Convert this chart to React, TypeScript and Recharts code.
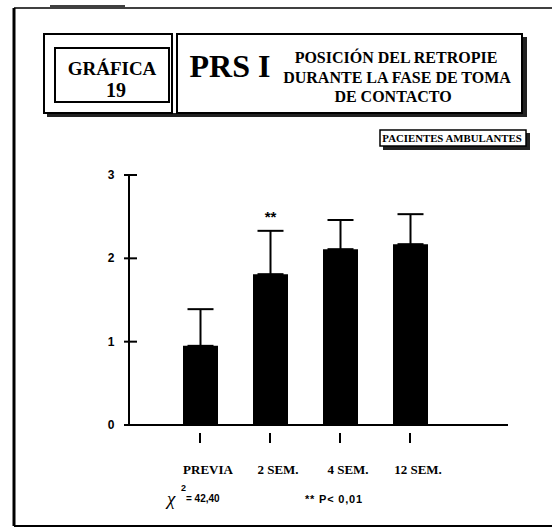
import React from 'react';
import { BarChart, Bar, XAxis, YAxis, ErrorBar, LabelList } from 'recharts';

// values
const categories = ['PREVIA', '2 SEM.', '4 SEM.', '12 SEM.'];
const means = [0.95, 1.81, 2.11, 2.17];
const sds = [0.44, 0.52, 0.35, 0.36];
const marks = ['', '**', '', ''];
const yTicks = [0, 1, 2, 3];

const data = categories.map((name, i) => ({
  name,
  mean: means[i],
  err: [0, sds[i]],
  mark: marks[i],
}));

const SERIF = 'Liberation Serif, DejaVu Serif, Times New Roman, serif';
const SANS = 'Liberation Sans, Arial, sans-serif';

const serif = { fontFamily: SERIF, fontWeight: 'bold' as const };

const XTick = ({ x, y, payload }: any) => (
  <g>
    <line x1={x} x2={x} y1={y + 8} y2={y + 18} stroke="#000" strokeWidth={2} />
    <text x={x + 8} y={y + 49} textAnchor="middle" style={serif} fontSize={13} fill="#000">
      {payload.value}
    </text>
  </g>
);

const YTick = ({ x, y, payload }: any) => (
  <g>
    <line x1={x - 5} x2={x + 8} y1={y} y2={y} stroke="#000" strokeWidth={2} />
    <text x={x - 18} y={y + 4} textAnchor="middle" style={{ fontFamily: SANS, fontWeight: 'bold' }} fontSize={12} fill="#000">
      {payload.value}
    </text>
  </g>
);

const MarkLabel = ({ x, y, width, height, value, index }: any) => {
  if (!value) return null;
  const top = y - (height * sds[index]) / means[index];
  return (
    <text x={x + width / 2} y={top - 9} textAnchor="middle" style={{ fontFamily: SANS, fontWeight: 'bold' }} fontSize={15} fill="#000">
      {value}
    </text>
  );
};

const Header = () => (
  <svg width={552} height={528} style={{ position: 'absolute', left: 0, top: 0 }}>
    {/* outer frame */}
    <line x1={14} x2={552} y1={8} y2={8} stroke="#000" strokeWidth={1.5} />
    <line x1={50} x2={125} y1={6} y2={6} stroke="#000" strokeWidth={1.5} />
    <line x1={14} x2={14} y1={8} y2={526} stroke="#000" strokeWidth={3} />
    <line x1={14} x2={552} y1={526} y2={526} stroke="#000" strokeWidth={2} />

    {/* title box shadows */}
    <rect x={47} y={113} width={480} height={4} fill="#222" />
    <rect x={522} y={37} width={5} height={80} fill="#222" />
    {/* title boxes */}
    <rect x={44} y={34} width={128} height={79} fill="#fff" stroke="#000" strokeWidth={2} />
    <rect x={177} y={34} width={345} height={79} fill="#fff" stroke="#000" strokeWidth={2} />
    <rect x={55} y={48} width={114} height={54} fill="none" stroke="#000" strokeWidth={2} />

    <text x={112} y={75} textAnchor="middle" style={serif} fontSize={19}>GRÁFICA</text>
    <text x={116} y={97} textAnchor="middle" style={serif} fontSize={20}>19</text>
    <text x={230} y={77} textAnchor="middle" style={serif} fontSize={32}>PRS I</text>
    <text x={396} y={63} textAnchor="middle" style={serif} fontSize={16}>POSICIÓN DEL RETROPIE</text>
    <text x={397} y={83} textAnchor="middle" style={serif} fontSize={16}>DURANTE LA FASE DE TOMA</text>
    <text x={393} y={102} textAnchor="middle" style={serif} fontSize={16}>DE CONTACTO</text>

    {/* patient group tag */}
    <rect x={383} y={146} width={146} height={4} fill="#222" />
    <rect x={526} y={133} width={4} height={17} fill="#222" />
    <rect x={380} y={130} width={146} height={16} fill="#fff" stroke="#000" strokeWidth={1.5} />
    <text x={452} y={142} textAnchor="middle" style={serif} fontSize={10.8}>PACIENTES AMBULANTES</text>

    {/* footnotes */}
    <text x={167} y={505} style={{ fontFamily: SERIF, fontStyle: 'italic' }} fontSize={19}>χ</text>
    <text x={181} y={491} style={{ fontFamily: SANS, fontWeight: 'bold' }} fontSize={9}>2</text>
    <text x={186} y={502} style={{ fontFamily: SANS, fontWeight: 'bold' }} fontSize={10}>= 42,40</text>
    <text x={305} y={503} style={{ fontFamily: SANS, fontWeight: 'bold' }} fontSize={11} letterSpacing={0.8}>** P&lt; 0,01</text>
  </svg>
);

export default function App() {
  return (
    <div style={{ position: 'absolute', left: 0, top: 0, width: 552, height: 528, overflow: 'hidden', background: '#fff' }}>
      <Header />
      <div style={{ position: 'absolute', left: 0, top: 0 }}>
        <BarChart width={552} height={528} data={data} margin={{ top: 175, right: 44, bottom: 43, left: 69 }}>
          <XAxis
            dataKey="name"
            height={60}
            padding={{ left: 36, right: 63 }}
            tickSize={0}
            tickMargin={0}
            tickLine={false}
            axisLine={{ stroke: '#000', strokeWidth: 2 }}
            tick={<XTick />}
            interval={0}
          />
          <YAxis
            width={60}
            domain={[0, 3]}
            ticks={yTicks}
            tickSize={0}
            tickMargin={0}
            tickLine={false}
            axisLine={{ stroke: '#000', strokeWidth: 2 }}
            tick={<YTick />}
          />
          <Bar dataKey="mean" fill="#000" barSize={35} isAnimationActive={false}>
            <ErrorBar dataKey="err" direction="y" width={13} stroke="#000" strokeWidth={2} isAnimationActive={false} />
            <LabelList dataKey="mark" content={<MarkLabel />} />
          </Bar>
        </BarChart>
      </div>
    </div>
  );
}
